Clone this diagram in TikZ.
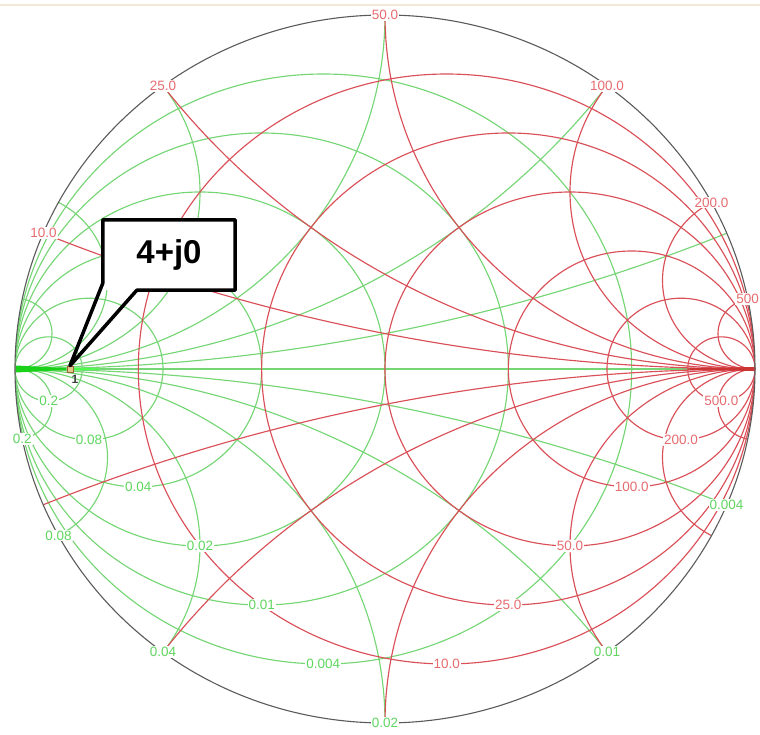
\documentclass[tikz,border=0pt]{standalone}
\usepackage{fontspec}
\setmainfont{Liberation Sans}
\usepackage{xcolor}
\usetikzlibrary{calc}
\definecolor{zline}{RGB}{218,80,88}
\definecolor{yline}{RGB}{118,214,118}
\definecolor{zlabel}{RGB}{230,108,112}
\definecolor{ylabel}{RGB}{96,214,96}
\definecolor{rimgray}{RGB}{90,90,90}
\definecolor{topbeige}{RGB}{242,234,214}
\definecolor{markfill}{RGB}{226,200,140}
\newcommand{\ChartFont}{\fontsize{13.5}{15}\selectfont}
\newcommand{\CalloutFont}{\fontsize{33}{37}\selectfont\bfseries}
\tikzset{
  zcurve/.style={draw=zline,line width=1.15pt},
  ycurve/.style={draw=yline,line width=1.15pt},
  zval/.style={fill=white,inner sep=1pt,text=zlabel,font=\ChartFont},
  yval/.style={fill=white,inner sep=1pt,text=ylabel,font=\ChartFont},
}

\begin{document}
\begin{tikzpicture}[x=1pt,y=-1pt]
  \useasboundingbox (0,0) rectangle (760,735);
  \fill[topbeige] (0,4) rectangle (760,6.5);
  \begin{scope}[shift={(385,369)},x=370pt,y=354pt]
    \begin{scope}
      \clip (0,0) circle[radius=1];
      % admittance grid
      \draw[ycurve] (-1,0) -- (1,0);
      \foreach \v in {0.2,0.5,1,2,4,10} {
        \draw[ycurve] ({-\v/(1+\v)},0) circle[radius={1/(1+\v)}];
        \draw[ycurve] (-1,{1/\v}) circle[radius={1/\v}];
        \draw[ycurve] (-1,{-1/\v}) circle[radius={1/\v}];
      }
      % impedance grid
      \foreach \v in {0.2,0.5,1,2,4,10} {
        \draw[zcurve] ({\v/(1+\v)},0) circle[radius={1/(1+\v)}];
        \draw[zcurve] (1,{1/\v}) circle[radius={1/\v}];
        \draw[zcurve] (1,{-1/\v}) circle[radius={1/\v}];
      }
    \end{scope}
    \draw[rimgray,line width=1.1pt] (0,0) circle[radius=1];
    % ohm values
    \foreach \v/\xl/\rl [count=\i] in {0.2/10.0/10.0, 0.5/25.0/25.0, 1/50.0/50.0,
        2/100.0/100.0, 4/200.0/200.0, 10/500/500.0} {
      \node[zval] (xl\i) at ({(\v*\v-1)/(\v*\v+1)},{2*\v/(\v*\v+1)}) {\xl};
      \node[zval] (rl\i) at ({\v/(1+\v)},{-1/(1+\v)}) {\rl};
    }
    % siemens values
    \foreach \v/\yl [count=\i] in {0.2/0.004, 0.5/0.01, 1/0.02, 2/0.04, 4/0.08, 10/0.2} {
      \node[yval] (bl\i) at ({(1-\v*\v)/(1+\v*\v)},{-2*\v/(1+\v*\v)}) {\yl};
      \node[yval] (gl\i) at ({-\v/(1+\v)},{-1/(1+\v)}) {\yl};
    }
  \end{scope}
  % crowded ends of the real axis
  \fill[green!80!black!90] (16,365.5) -- (66,368) -- (66,370) -- (16,372.5) -- cycle;
  \fill[green!70] (74,367.5) -- (100,368.5) -- (100,369.5) -- (74,370.5) -- cycle;
  \fill[red!75!black!80] (688,368.3) -- (754,367) -- (754,371) -- (688,369.7) -- cycle;
  % point and its callout
  \node[draw=brown!80!black,fill=markfill,line width=0.6pt,minimum size=6pt,inner sep=0pt]
    (mark) at (70,369) {};
  \node[text=darkgray,font=\fontsize{12}{12}\selectfont\bfseries,inner sep=0pt] (marknum) at (75,379) {1};
  \node[fill=white,minimum width=132pt,minimum height=70pt,inner sep=0pt,font=\CalloutFont]
    (callout) at (169,255) {4+j0};
  \draw[line width=3.5pt,line join=round] ($(callout.south west)+(0,-7)$) -- (callout.north west)
    -- (callout.north east) -- (callout.south east) -- ($(callout.south west)+(34,0)$)
    -- (mark.north) -- cycle;
\end{tikzpicture}
\end{document}
